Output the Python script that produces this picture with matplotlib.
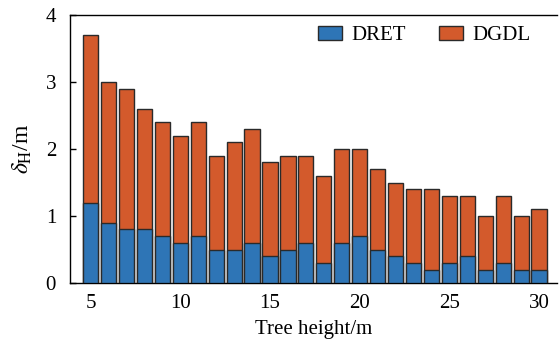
import matplotlib
matplotlib.use("Agg")
import matplotlib.pyplot as plt
from matplotlib.patches import Patch

plt.rcParams['font.family'] = ['Liberation Serif', 'DejaVu Serif']
plt.rcParams['mathtext.fontset'] = 'stix'

tree_height = list(range(5, 31))
dret = [1.2, 0.9, 0.8, 0.8, 0.7, 0.6, 0.7, 0.5, 0.5, 0.6, 0.4, 0.5, 0.6,
        0.3, 0.6, 0.7, 0.5, 0.4, 0.3, 0.2, 0.3, 0.4, 0.2, 0.3, 0.2, 0.2]
dgdl = [3.7, 3.0, 2.9, 2.6, 2.4, 2.2, 2.4, 1.9, 2.1, 2.3, 1.8, 1.9, 1.9,
        1.6, 2.0, 2.0, 1.7, 1.5, 1.4, 1.4, 1.3, 1.3, 1.0, 1.3, 1.0, 1.1]
series_names = ["DRET", "DGDL"]
blue = "#2e75b6"
orange = "#d35a2c"
edge = "#2a2a2a"

fig = plt.figure(figsize=(5.59, 3.5), dpi=100)
ax = fig.add_axes([70/559, 1 - 283/350, (557-70)/559, (283-15)/350])

ax.bar(tree_height, dgdl, width=0.85, color=orange, edgecolor=edge, linewidth=1.0, zorder=2)
ax.bar(tree_height, dret, width=0.85, color=blue, edgecolor=edge, linewidth=1.0, zorder=3)

ax.set_xlim(3.85, 31.0)
ax.set_ylim(0, 4)
ax.set_xticks([5, 10, 15, 20, 25, 30])
ax.set_yticks([0, 1, 2, 3, 4])
ax.tick_params(direction='in', labelsize=15, length=4, width=1)
ax.tick_params(axis='x', pad=8)
ax.tick_params(axis='y', pad=10)
ax.spines['right'].set_visible(False)
for s in ['left', 'top', 'bottom']:
    ax.spines[s].set_linewidth(1.0)

ax.set_xlabel("Tree height/m", fontsize=15, labelpad=5)
ax.set_ylabel(r"$\delta_{\mathrm{H}}$/m", fontsize=17, labelpad=8)

handles = [Patch(facecolor=blue, edgecolor=edge, linewidth=1.0),
           Patch(facecolor=orange, edgecolor=edge, linewidth=1.0)]
ax.legend(handles, series_names, loc='upper right', ncol=2, frameon=False,
          fontsize=15, handlelength=1.15, handleheight=0.7, columnspacing=1.6,
          handletextpad=0.45, bbox_to_anchor=(0.985, 1.03))

fig.savefig("out.png", dpi=100)
